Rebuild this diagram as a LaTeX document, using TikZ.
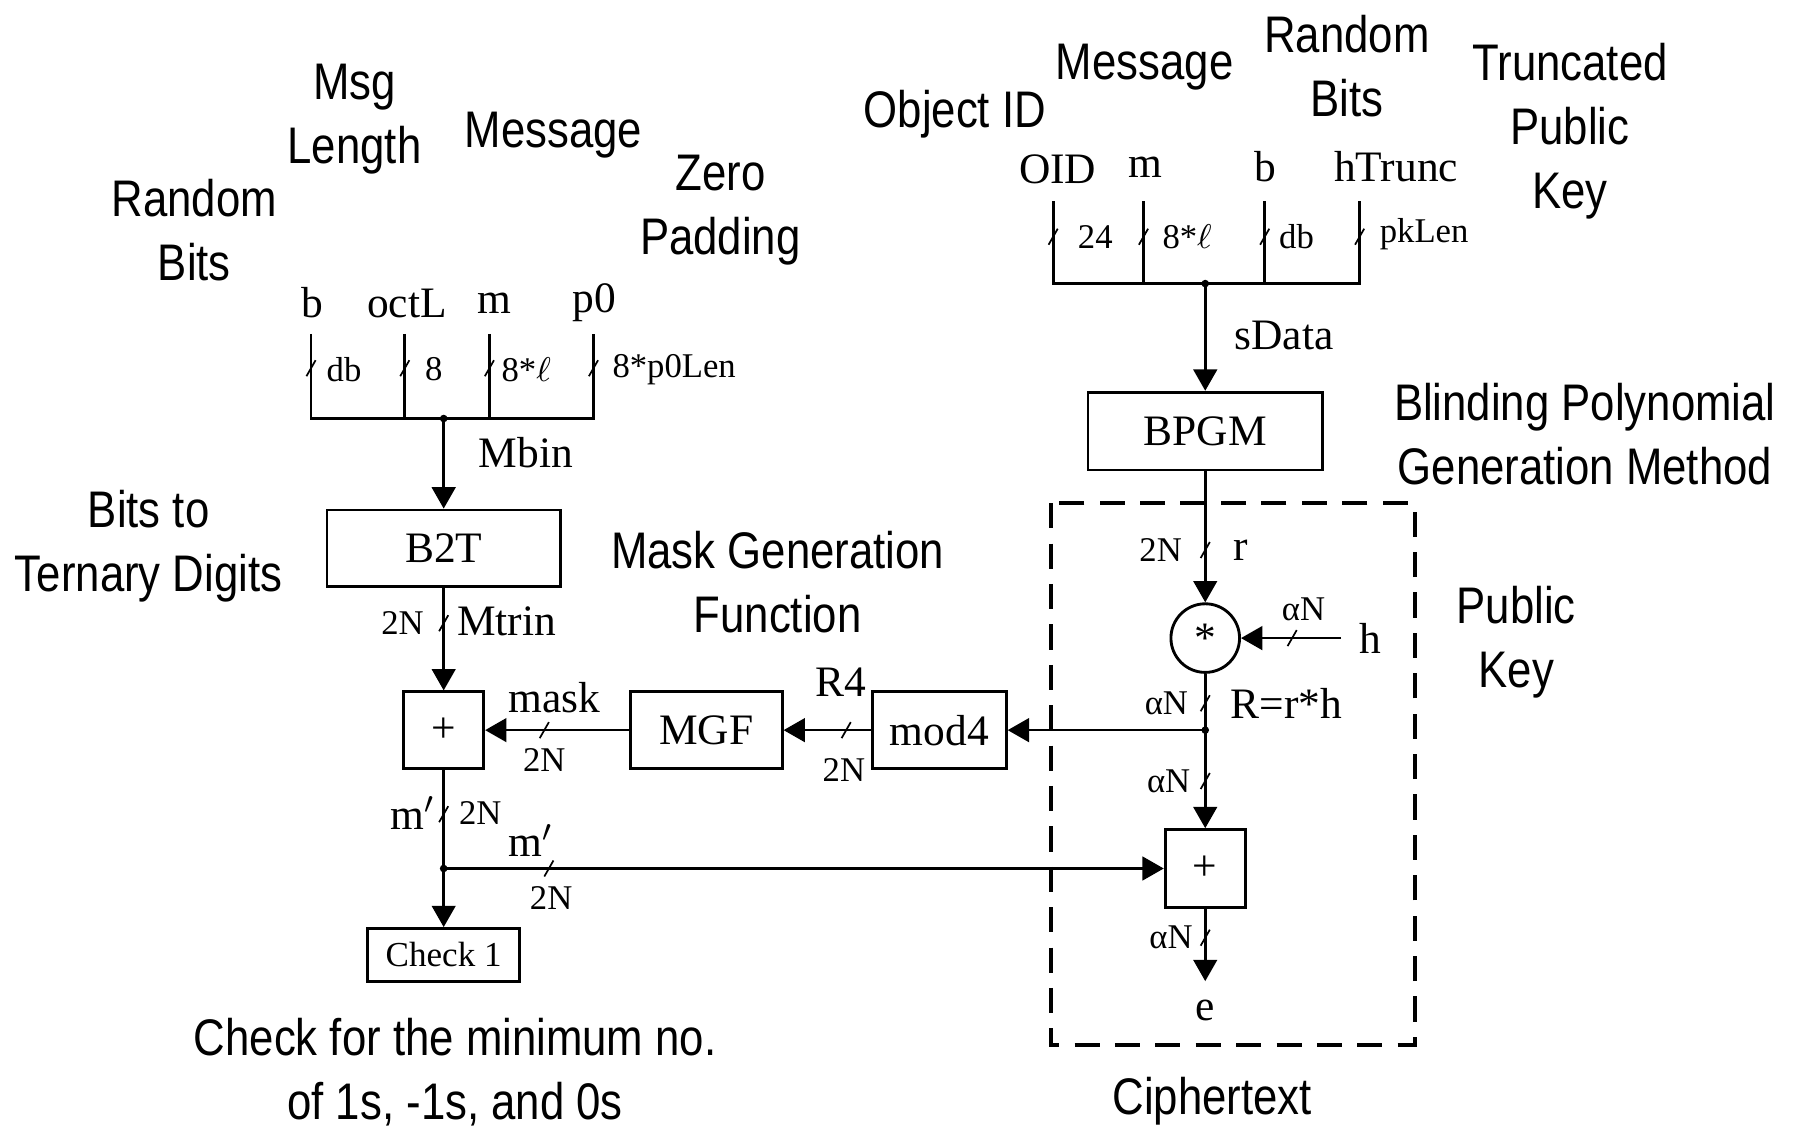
\documentclass[tikz,border=0pt]{standalone}
\usepackage{fontspec}
\setmainfont{Liberation Serif}
\newfontfamily\gfont[FakeStretch=0.85]{Liberation Sans}
\usetikzlibrary{arrows.meta}
\newcommand\fbig{\fontsize{11.4}{13.5}\selectfont}
\newcommand\fsml{\fontsize{9.1}{10.5}\selectfont}
\newcommand\fchk{\fontsize{9.2}{10.5}\selectfont}
\newcommand\fgry{\gfont\fontsize{13.5}{16.8}\selectfont}
\begin{document}
\begin{tikzpicture}[x=0.3pt,y=-0.3pt,
  every node/.style={inner sep=0pt},
  ln/.style={line width=0.7pt},
  tkl/.style={line width=0.45pt},
  arr/.style={ln,-{Triangle[length=5.6pt,width=6.2pt]}},
  blk/.style={draw,line width=0.75pt,font=\fbig},
  big/.style={font=\fbig},
  sml/.style={font=\fsml},
  gl/.style={font=\fgry,align=center}]
\useasboundingbox (0,0) rectangle (1568,987);
\newcommand\tickat[1]{\draw[tkl] ([shift={(-4,7)}]#1) -- ([shift={(4,-7)}]#1);}
% ---------- annotations ----------
\node[gl] (gRB1) at (170,201) {Random\\Bits};
\node[gl] (gML) at (310,104) {Msg\\Length};
\node[gl] (gMsg1) at (484,118) {Message};
\node[gl] (gZP) at (630,184) {Zero\\Padding};
\node[gl] (gBT) at (130,478) {Bits to\\Ternary Digits};
\node[gl] (gMGF) at (680,509) {Mask Generation\\Function};
\node[gl] (gOID) at (835,100) {Object ID};
\node[gl] (gMsg2) at (1001,59) {Message};
\node[gl] (gRB2) at (1178,58) {Random\\Bits};
\node[gl] (gTPK) at (1373,115) {Truncated\\Public\\Key};
\node[gl] (gBPG) at (1386,380) {Blinding Polynomial\\Generation Method};
\node[gl] (gPK) at (1326,562) {Public\\Key};
\node[gl] (gChk) at (398,938) {Check for the minimum no.\\of 1s, -1s, and 0s};
\node[gl] (gCT) at (1060,963) {Ciphertext};
% ---------- left bus ----------
\node[big] (nb) at (273,265) {b};
\node[big] (noctL) at (356,265) {octL};
\node[big] (nm) at (432,265) {m};
\node[big] (np0) at (520,265) {p0};
\coordinate (lt1) at (272,292); \coordinate (lb1) at (272,366);
\coordinate (lt2) at (354,292); \coordinate (lb2) at (354,366);
\coordinate (lt3) at (428,292); \coordinate (lb3) at (428,366);
\coordinate (lt4) at (519,292); \coordinate (lb4) at (519,366);
\coordinate (lj) at (388,366);
\draw[ln] (lt1) -- (lb1) -- (lb4) -- (lt4);
\draw[ln] (lt2) -- (lb2);
\draw[ln] (lt3) -- (lb3);
\fill (lj) circle (1pt);
\foreach \x in {272,354,428,519} {\tickat{\x,322}}
\node[sml,anchor=west] at (285,323) {db};
\node[sml,anchor=west] at (371,323) {8};
\node[sml,anchor=west] at (438,323) {8*$\ell$};
\node[sml,anchor=west] at (535,323) {8*p0Len};
\node[big] at (460,396) {Mbin};
% ---------- left blocks ----------
\node[blk,minimum width=61.2pt,minimum height=20.1pt] (b2t) at (388,479.5) {B2T};
\node[blk,minimum width=21pt,minimum height=20.1pt] (plusL) at (388,638.5) {+};
\node[blk,minimum width=39.9pt,minimum height=20.1pt] (mgf) at (617.5,638.5) {MGF};
\node[blk,minimum width=35.1pt,minimum height=20.1pt] (mod4) at (821.5,638.5) {mod4};
\node[blk,minimum width=39.9pt,minimum height=13.8pt,font=\fchk] (chk) at (388,835) {Check 1};
\draw[arr] (lj) -- (b2t.north);
\draw[arr] (b2t.south) -- (plusL.north);
\tickat{388,545}
\node[sml] at (352,545) {2N};
\node[big] at (443,543) {Mtrin};
\coordinate (mj) at (388,759.5);
\draw[arr] (plusL.south) -- (chk.north);
\fill (mj) circle (1pt);
\tickat{388,712}
\node[big] at (361,711) {m$^{\prime}$};
\node[sml] at (420,711) {2N};
\draw[arr] (mgf.west) -- (plusL.east);
\tickat{476,638.5}
\node[big] at (485,610) {mask};
\node[sml] at (476,665) {2N};
\draw[arr] (mod4.west) -- (mgf.east);
\tickat{740,638.5}
\node[big] at (735,597) {R4};
\node[sml] at (738,673) {2N};
% ---------- right bus ----------
\node[big] (nOID) at (925,148) {OID};
\node[big] (nm2) at (1002,146) {m};
\node[big] (nb2) at (1107,146) {b};
\node[big] (nhT) at (1221,146) {hTrunc};
\coordinate (rt1) at (921,176); \coordinate (rb1) at (921,248);
\coordinate (rt2) at (1000,176); \coordinate (rb2) at (1000,248);
\coordinate (rt3) at (1106,176); \coordinate (rb3) at (1106,248);
\coordinate (rt4) at (1189,176); \coordinate (rb4) at (1189,248);
\coordinate (rj) at (1054,248);
\draw[ln] (rt1) -- (rb1) -- (rb4) -- (rt4);
\draw[ln] (rt2) -- (rb2);
\draw[ln] (rt3) -- (rb3);
\fill (rj) circle (1pt);
\foreach \x in {921,1000,1106,1189} {\tickat{\x,207}}
\node[sml,anchor=west] at (942,207) {24};
\node[sml,anchor=west] at (1016,207) {8*$\ell$};
\node[sml,anchor=west] at (1118,207) {db};
\node[sml,anchor=west] at (1206,205) {pkLen};
\node[big] at (1123,293) {sData};
% ---------- right blocks ----------
\node[blk,minimum width=61.5pt,minimum height=20.4pt] (bpgm) at (1054,377) {BPGM};
\node[draw,circle,line width=0.75pt,minimum size=18pt,font=\fbig] (circ) at (1054,558) {*};
\node[blk,minimum width=21pt,minimum height=20.4pt] (plusR) at (1054,759.5) {+};
\node[big] (h) at (1198,558) {h};
\node[big] (e) at (1054,884) {e};
\coordinate (eend) at (1054,858);
\coordinate (rj2) at (1054,638.5);
\draw[arr] (rj) -- (bpgm.north);
\draw[arr] (bpgm.south) -- (circ.north);
\tickat{1054,481}
\node[sml] at (1015,481) {2N};
\node[big] at (1085,481) {r};
\draw[arr,shorten <=4.5pt] (circ.east -| h.west) -- (circ.east);
\tickat{1130,558}
\node[sml] at (1140,533) {αN};
\draw[ln] (circ.south) -- (rj2);
\fill (rj2) circle (1pt);
\tickat{1054,615}
\node[sml] at (1020,615) {αN};
\node[big] at (1125,615) {R=r*h};
\draw[arr] (rj2) -- (mod4.east);
\draw[arr] (rj2) -- (plusR.north);
\tickat{1054,683}
\node[sml] at (1022,683) {αN};
\draw[arr] (mj) -- (plusR.west);
\tickat{480,759.5}
\node[big] at (464,735) {m$^{\prime}$};
\node[sml] at (482,785) {2N};
\draw[arr] (plusR.south) -- (eend);
\tickat{1054,820}
\node[sml] at (1024,820) {αN};
% ---------- dashed box ----------
\draw[line width=1.05pt,dash pattern=on 6.6pt off 4pt] (919,440) rectangle (1237,914);
\end{tikzpicture}
\end{document}
